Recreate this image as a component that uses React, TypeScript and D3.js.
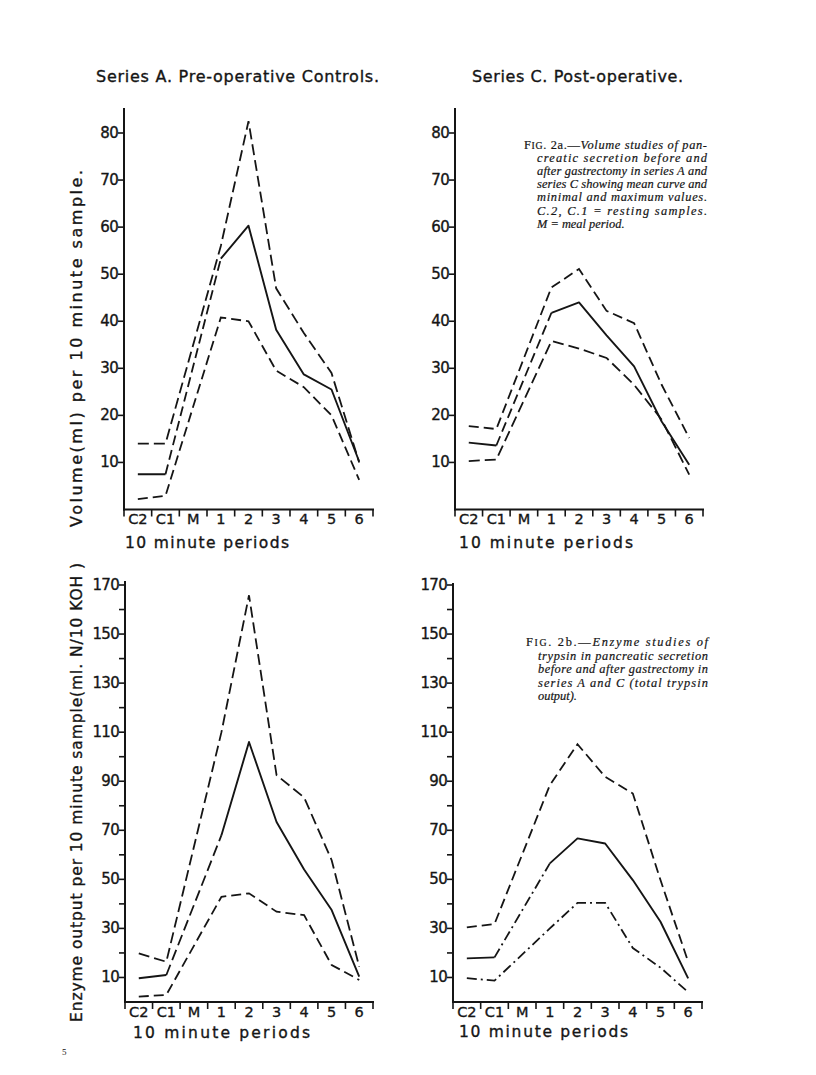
import React from "react";
import * as d3 from "d3";

// ---------- data ----------
const CATS = ["C2", "C1", "M", "1", "2", "3", "4", "5", "6"];

const VOL_TICKS = [10, 20, 30, 40, 50, 60, 70, 80];
const ENZ_TICKS = [10, 30, 50, 70, 90, 110, 130, 150, 170];
const ENZ_MINOR = [20, 40, 60, 80, 100, 120, 140, 160];

// Volume, series A (pre-operative)
const volA_max = [14, 14, null, 56, 82.5, 47, 37.5, 29, 10];
const volA_mean = [7.5, 7.5, null, 53.3, 60.3, 38.2, 28.7, 25.5, 10.2];
const volA_min = [2.2, 2.9, null, 40.8, 40, 29.5, 26, 20, 6.3];

// Volume, series C (post-operative)
const volC_max = [17.7, 17.1, null, 47.2, 51.1, 42.2, 39.6, 26.5, 15.2];
const volC_mean = [14.2, 13.6, null, 41.8, 44, 37, 30.4, 18.7, 9.5];
const volC_min = [10.3, 10.6, null, 35.8, 34.2, 32.2, 26.5, 19.1, 7.4];

// Enzyme, series A
const enzA_max = [19.8, 16.4, null, 110, 165.8, 92.5, 83.4, 57.8, 14.4];
const enzA_mean = [9.7, 11, null, 68, 106, 73.4, 54, 37.5, 10.3];
const enzA_min = [2.2, 2.9, null, 42.9, 44.3, 36.8, 35.4, 15.1, 9];

// Enzyme, series C
const enzC_max = [30.4, 31.8, null, 88.4, 105.1, 91.8, 85, 49.7, 16.4];
const enzC_mean = [17.8, 18.2, null, 56.5, 66.7, 64.6, 49.7, 32.7, 9.6];
const enzC_min = [9.7, 8.7, null, 30, 40.4, 40.4, 22, 14, 4];

const TITLE_A = "Series A. Pre-operative Controls.";
const TITLE_C = "Series C. Post-operative.";
const X_TITLE = "10 minute periods";
const Y_TITLE_VOL = "Volume(ml) per 10 minute sample.";
const Y_TITLE_ENZ = "Enzyme output per 10 minute sample(ml. N/10 KOH )";

const CAP_A = [
  "Volume studies of pan-",
  "creatic  secretion  before  and",
  "after gastrectomy in series A and",
  "series C showing mean curve and",
  "minimal and maximum values.",
  "C.2,  C.1  =  resting  samples.",
  "M = meal period.",
];
const CAP_B = [
  "Enzyme  studies  of",
  "trypsin in pancreatic secretion",
  "before and after gastrectomy in",
  "series A and C (total trypsin",
  "output).",
];

const INK = "#151515";
const SANS = "'DejaVu Sans', 'Open Sans', sans-serif";
const SERIF = "'Liberation Serif', 'DejaVu Serif', serif";
const BOLDEN = { stroke: INK, strokeWidth: 0.35 };

type Series = (number | null)[];

interface PanelProps {
  xr: [number, number];
  yr: [number, number];
  domainMax: number;
  axisTop: number;
  ticks: number[];
  minor?: number[];
  max: Series;
  mean: Series;
  min: Series;
  dashMax: string;
  dashMin: string;
  dashMeal: string;
}

function Panel(p: PanelProps) {
  const x = d3.scaleBand<string>().domain(CATS).range(p.xr);
  const y = d3.scaleLinear().domain([0, p.domainMax]).range(p.yr);
  const cx = (c: string) => (x(c) as number) + x.bandwidth() / 2;
  const line = d3.line<[number, number]>();
  const pts = (s: Series, idx: number[]) =>
    idx.filter((i) => s[i] != null).map((i) => [cx(CATS[i]), y(s[i] as number)] as [number, number]);
  const all = [0, 1, 2, 3, 4, 5, 6, 7, 8];
  const y0 = y(0);
  const ax = p.xr[0];
  const bounds = d3.range(CATS.length + 1).map((i) => p.xr[0] + i * x.bandwidth());
  return (
    <g>
      {/* axes */}
      <line x1={ax} x2={ax} y1={p.axisTop} y2={y0 + 1} stroke={INK} strokeWidth={2} />
      <line x1={ax - 1} x2={p.xr[1] + 1} y1={y0} y2={y0} stroke={INK} strokeWidth={2} />
      {p.ticks.map((t) => (
        <g key={"t" + t}>
          <line x1={ax - 6} x2={ax} y1={y(t)} y2={y(t)} stroke={INK} strokeWidth={1.6} />
          <text x={ax - 6} y={y(t) + 5} textAnchor="end" fontFamily={SANS} fontSize={15} fill={INK} letterSpacing={-0.7} {...BOLDEN}>
            {t}
          </text>
        </g>
      ))}
      {(p.minor || []).map((t) => (
        <line key={"m" + t} x1={ax - 6} x2={ax} y1={y(t)} y2={y(t)} stroke={INK} strokeWidth={1.6} />
      ))}
      {bounds.map((b, i) => (
        <line key={"b" + i} x1={b} x2={b} y1={y0} y2={y0 + 7} stroke={INK} strokeWidth={1.6} />
      ))}
      {CATS.map((c) => (
        <text key={c} x={cx(c)} y={y0 + 14.5} textAnchor="middle" fontFamily={SANS} fontSize={14.5} fill={INK} {...BOLDEN}>
          {c}
        </text>
      ))}
      {/* data */}
      <path d={line(pts(p.max, all)) || ""} fill="none" stroke={INK} strokeWidth={1.8} strokeDasharray={p.dashMax} />
      <path d={line(pts(p.min, all)) || ""} fill="none" stroke={INK} strokeWidth={1.8} strokeDasharray={p.dashMin} />
      <path
        d={(line(pts(p.mean, [0, 1])) || "") + (line(pts(p.mean, [3, 4, 5, 6, 7, 8])) || "")}
        fill="none"
        stroke={INK}
        strokeWidth={1.9}
        strokeLinejoin="round"
      />
      <path d={line(pts(p.mean, [1, 3])) || ""} fill="none" stroke={INK} strokeWidth={1.8} strokeDasharray={p.dashMeal} />
    </g>
  );
}

function Caption({ x, y, step, width, label, lines, indent, ragged }: { x: number; y: number; step: number; width: number; label: string; lines: string[]; indent: number; ragged: number[] }) {
  return (
    <g fontFamily={SERIF} fontSize={12.4} fill={INK} stroke={INK} strokeWidth={0.2}>
      {lines.map((l, i) => {
        const last = ragged.includes(i);
        const lx = i === 0 ? x : x + indent;
        const w = i === 0 ? width : width - indent;
        return (
          <text key={i} x={lx} y={y + i * step} textLength={last ? undefined : w} lengthAdjust="spacing">
            {i === 0 ? (
              <>
                <tspan fontStyle="normal">F</tspan>
                <tspan fontStyle="normal" fontSize={9.8}>IG</tspan>
                <tspan fontStyle="normal">{". " + label + ".\u2014"}</tspan>
                <tspan fontStyle="italic">{l}</tspan>
              </>
            ) : (
              <tspan fontStyle="italic">{l}</tspan>
            )}
          </text>
        );
      })}
    </g>
  );
}

export default function App() {
  return (
    <svg width={816} height={1075} style={{ position: "absolute", left: 0, top: 0, background: "#fff" }}>
      <rect width={816} height={1075} fill="#fff" />
      {/* titles */}
      <text x={96} y={82} fontFamily={SANS} fontSize={16} fill={INK} textLength={283} lengthAdjust="spacing" {...BOLDEN}>{TITLE_A}</text>
      <text x={472} y={82} fontFamily={SANS} fontSize={16} fill={INK} textLength={211} lengthAdjust="spacing" {...BOLDEN}>{TITLE_C}</text>

      {/* y titles */}
      <text transform="translate(82,527) rotate(-90)" fontFamily={SANS} fontSize={16} fill={INK} textLength={357} lengthAdjust="spacing" {...BOLDEN}>{Y_TITLE_VOL}</text>
      <text transform="translate(82,1022) rotate(-90)" fontFamily={SANS} fontSize={15.5} fill={INK} textLength={459} lengthAdjust="spacing" {...BOLDEN}>{Y_TITLE_ENZ}</text>

      <Panel xr={[124, 373]} yr={[509.5, 133]} domainMax={80} axisTop={108} ticks={VOL_TICKS}
        max={volA_max} mean={volA_mean} min={volA_min} dashMax="11,5" dashMin="10,5" dashMeal="10,5" />
      <Panel xr={[455, 703]} yr={[509.5, 133]} domainMax={80} axisTop={108} ticks={VOL_TICKS}
        max={volC_max} mean={volC_mean} min={volC_min} dashMax="10,5" dashMin="11,5" dashMeal="10,5" />
      <Panel xr={[125, 373]} yr={[1002, 585]} domainMax={170} axisTop={581} ticks={ENZ_TICKS} minor={ENZ_MINOR}
        max={enzA_max} mean={enzA_mean} min={enzA_min} dashMax="11,5" dashMin="10,5" dashMeal="11,5" />
      <Panel xr={[453, 702]} yr={[1002, 585]} domainMax={170} axisTop={583} ticks={ENZ_TICKS} minor={ENZ_MINOR}
        max={enzC_max} mean={enzC_mean} min={enzC_min} dashMax="10,5" dashMin="10,4,2,4" dashMeal="10,4,2,4" />

      {/* x titles */}
      <text x={125} y={548} fontFamily={SANS} fontSize={15.5} fill={INK} textLength={164} lengthAdjust="spacing" {...BOLDEN}>{X_TITLE}</text>
      <text x={459} y={548} fontFamily={SANS} fontSize={15.5} fill={INK} textLength={174} lengthAdjust="spacing" {...BOLDEN}>{X_TITLE}</text>
      <text x={133} y={1038} fontFamily={SANS} fontSize={15.5} fill={INK} textLength={177} lengthAdjust="spacing" {...BOLDEN}>{X_TITLE}</text>
      <text x={459} y={1037} fontFamily={SANS} fontSize={15.5} fill={INK} textLength={169} lengthAdjust="spacing" {...BOLDEN}>{X_TITLE}</text>

      {/* captions */}
      <Caption x={524} y={149} step={13.1} width={183} indent={13} label="2a" lines={CAP_A} ragged={[6]} />
      <Caption x={526} y={646} step={13.5} width={182} indent={12} label="2b" lines={CAP_B} ragged={[4]} />

      <text x={62} y={1055} fontFamily={SERIF} fontSize={9} fill={INK}>5</text>
    </svg>
  );
}
